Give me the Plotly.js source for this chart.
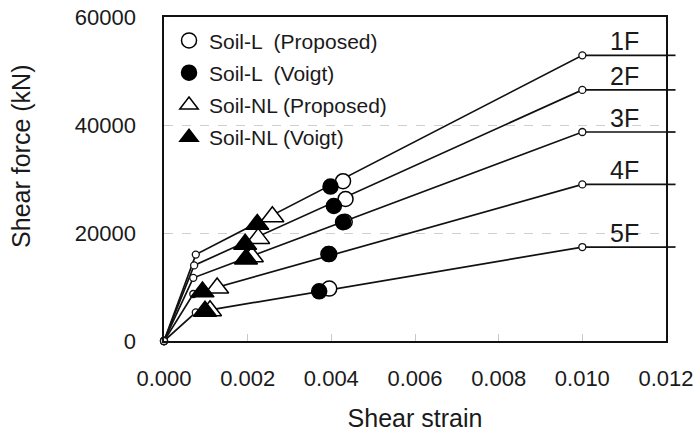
<!DOCTYPE html>
<html>
<head>
<meta charset="utf-8">
<script src="https://cdn.plot.ly/plotly-3.0.1.min.js"></script>
<style>
html, body { margin: 0; padding: 0; background: #ffffff; }
#chart { width: 693px; height: 432px; }
</style>
</head>
<body>
<div id="chart"></div>
<script>
// ---- data ----
var floors = ['1F', '2F', '3F', '4F', '5F'];
var kneeX = [0.00076, 0.00072, 0.00070, 0.00070, 0.00076];
var kneeY = [16000, 14000, 11700, 8700, 5300];
var endX = [0.010, 0.010, 0.010, 0.010, 0.010];
var endY = [52900, 46500, 38700, 29000, 17400];
var plateauX = 0.0122;

var soilLPropX = [0.00428, 0.00434, 0.00432, 0.00395, 0.00395];
var soilLPropY = [29600, 26300, 22100, 16100, 9700];
var soilLVoigtX = [0.00398, 0.00406, 0.00428, 0.00393, 0.00371];
var soilLVoigtY = [28600, 25000, 22000, 16100, 9200];
var soilNLPropX = [0.00259, 0.00225, 0.00210, 0.00127, 0.00110];
var soilNLPropY = [23000, 19000, 15600, 9800, 5600];
var soilNLVoigtX = [0.00223, 0.00194, 0.00196, 0.00092, 0.00098];
var soilNLVoigtY = [21600, 17900, 15200, 9100, 5500];

var xTicks = [0, 0.002, 0.004, 0.006, 0.008, 0.010, 0.012];
var xTickText = ['0.000', '0.002', '0.004', '0.006', '0.008', '0.010', '0.012'];
var yTicks = [0, 20000, 40000, 60000];
var yTickText = ['0', '20000', '40000', '60000'];
var xRange = [0, 0.012];
var yRange = [0, 60000];

var FONT = 'Liberation Sans, Arial, sans-serif';
var TXT = '#1a1a1a';

var traces = [];
// backbone curves
for (var i = 0; i < floors.length; i++) {
  traces.push({
    x: [0, kneeX[i], endX[i], plateauX],
    y: [0, kneeY[i], endY[i], endY[i]],
    type: 'scatter', mode: 'lines',
    line: { color: '#111111', width: 1.7 },
    showlegend: false, hoverinfo: 'skip'
  });
  traces.push({
    x: [0, kneeX[i], endX[i]],
    y: [0, kneeY[i], endY[i]],
    type: 'scatter', mode: 'markers',
    marker: { symbol: 'circle', size: 7, color: '#ffffff', line: { color: '#111111', width: 1.3 } },
    showlegend: false, hoverinfo: 'skip', cliponaxis: false
  });
}

function markerTrace(name, group, xs, ys, symbol, size, fill) {
  return {
    x: xs, y: ys, name: name, legendgroup: group,
    type: 'scatter', mode: 'markers',
    marker: { symbol: symbol, size: size, color: fill, line: { color: '#000000', width: 1.5 } },
    cliponaxis: false
  };
}
traces.push(markerTrace('Soil-L  (Proposed)', 'g1', soilLPropX, soilLPropY, 'circle', 15, '#ffffff'));
traces.push(markerTrace('Soil-L  (Voigt)', 'g2', soilLVoigtX, soilLVoigtY, 'circle', 15, '#000000'));
traces.push(markerTrace('Soil-NL (Proposed)', 'g3', soilNLPropX, soilNLPropY, 'triangle-up', 20, '#ffffff'));
traces.push(markerTrace('Soil-NL (Voigt)', 'g4', soilNLVoigtX, soilNLVoigtY, 'triangle-up', 20, '#000000'));

var annotations = [];
var shapes = [];
for (var j = 0; j < floors.length; j++) {
  annotations.push({
    x: 0.0110, y: endY[j], xref: 'x', yref: 'y',
    text: floors[j], showarrow: false,
    xanchor: 'center', yanchor: 'middle', yshift: 14,
    font: { family: FONT, size: 25, color: TXT }
  });
  var yp = (endY[j] - yRange[0]) / (yRange[1] - yRange[0]);
  shapes.push({
    type: 'line', xref: 'paper', yref: 'paper',
    x0: 1, x1: 1.019, y0: yp, y1: yp,
    line: { color: '#111111', width: 1.7 }
  });
}
annotations.push({
  xref: 'paper', yref: 'paper', x: -0.285, y: 0.571,
  text: 'Shear force (kN)', textangle: -90, showarrow: false,
  xanchor: 'center', yanchor: 'middle',
  font: { family: FONT, size: 25, color: TXT }
});

var layout = {
  width: 693, height: 432,
  margin: { l: 164, r: 27, t: 17, b: 91 },
  paper_bgcolor: '#ffffff', plot_bgcolor: '#ffffff',
  font: { family: FONT, color: TXT },
  showlegend: true,
  legend: {
    x: 0.01, y: 0.99, xanchor: 'left', yanchor: 'top',
    bgcolor: 'rgba(0,0,0,0)', borderwidth: 0,
    font: { family: FONT, size: 21, color: TXT },
    traceorder: 'grouped',
    tracegroupgap: 2
  },
  xaxis: {
    range: xRange, tickvals: xTicks, ticktext: xTickText,
    showgrid: false, zeroline: false,
    showline: true, linecolor: '#111111', linewidth: 1.6, mirror: true,
    ticks: 'inside', ticklen: 7, tickcolor: '#c8c8c8', tickwidth: 1,
    ticklabelstandoff: 17,
    ticklabeloverflow: 'allow',
    tickfont: { family: FONT, size: 22, color: TXT },
    title: { text: 'Shear strain', font: { family: FONT, size: 25, color: TXT }, standoff: 20 }
  },
  yaxis: {
    range: yRange, tickvals: yTicks, ticktext: yTickText,
    showgrid: true, gridcolor: '#cfcfcf', griddash: 'dash', gridwidth: 1,
    zeroline: false,
    showline: true, linecolor: '#111111', linewidth: 1.6, mirror: true,
    ticks: 'inside', ticklen: 6, tickcolor: '#c8c8c8', tickwidth: 1,
    ticklabelstandoff: 22,
    tickfont: { family: FONT, size: 22, color: TXT }
  },
  annotations: annotations,
  shapes: shapes
};

Plotly.newPlot('chart', traces, layout, { displayModeBar: false, staticPlot: true });
</script>
</body>
</html>
